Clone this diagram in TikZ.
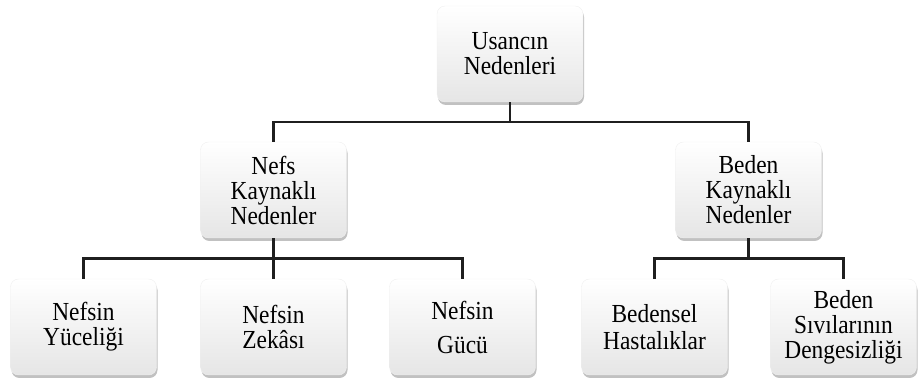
\documentclass[tikz,border=0pt]{standalone}
\usepackage{fontspec}
\setmainfont[FakeStretch=0.9]{Liberation Serif}
\usetikzlibrary{shadows,calc}

\tikzset{
  causebox/.style={rectangle, rounded corners=8pt, minimum width=146pt,
    minimum height=96pt, inner sep=2pt, align=center,
    top color=white, bottom color=black!10, draw=black!6,
    font=\fontsize{26}{25}\selectfont,
    drop shadow={shadow xshift=1pt, shadow yshift=-3pt, opacity=0.35, fill=black!70}},
  elbow/.style={draw, line width=2.5pt, color=black!88,
    to path={|- ($(\tikztostart)!0.5!(\tikztotarget)$) -| (\tikztotarget)}}
}

\begin{document}
\begin{tikzpicture}[x=1pt,y=1pt]

      \useasboundingbox (0,0) rectangle (919,380);

      \begin{scope}[every node/.style={causebox}]
        \node (1) at (510,326) {Usancın\\Nedenleri};
        \node (2) at (273.5,190) {Nefs\\Kaynaklı\\Nedenler};
        \node (3) at (748.5,190) {Beden\\Kaynaklı\\Nedenler};
        \node (4) at (83.5,53) {Nefsin\\Yüceliği};
        \node (5) at (273.5,53) {Nefsin\\Zekâsı};
        \node (6) at (462.5,53) {Nefsin\\[9pt]Gücü};
        \node (7) at (654.5,53) {Bedensel\\[2pt]Hastalıklar};
        \node (8) at (843.5,53) {Beden\\Sıvılarının\\Dengesizliği};
      \end{scope}

      \begin{scope}[every edge/.style={elbow}]
        \path (1.south) edge (2.north);
        \path (1.south) edge (3.north);
        \path (2.south) edge (4.north);
        \path (2.south) edge (5.north);
        \path (2.south) edge (6.north);
        \path (3.south) edge (7.north);
        \path (3.south) edge (8.north);
      \end{scope}

    \end{tikzpicture}
\end{document}
